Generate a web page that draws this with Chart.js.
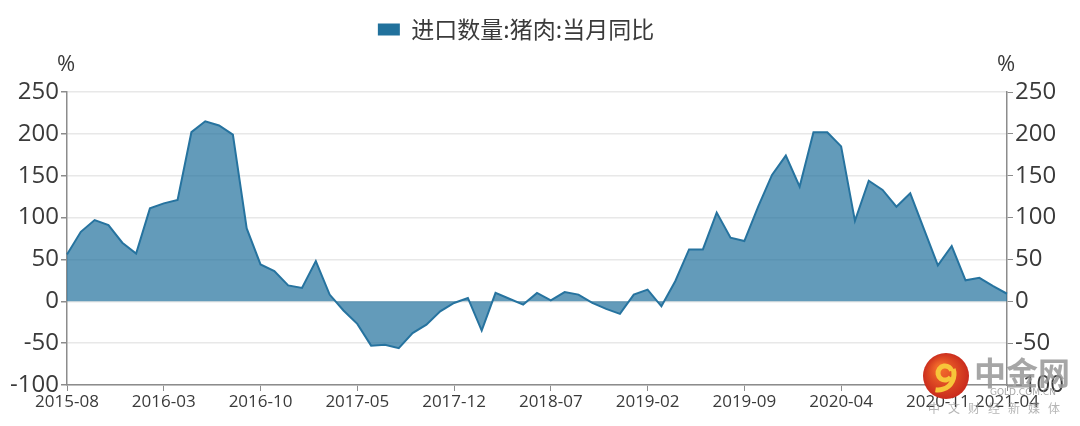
<!DOCTYPE html>
<html>
<head>
<meta charset="utf-8">
<script src="https://cdn.jsdelivr.net/npm/chart.js@4.4.0/dist/chart.umd.min.js"></script>
<style>
  html, body { margin: 0; padding: 0; background: #fff; }
  #wrap { width: 1080px; height: 426px; }
</style>
</head>
<body>
<div id="wrap"><canvas id="chart"></canvas></div>
<script>
// 进口数量:猪肉:当月同比, 2015-08 ~ 2021-04 (月度)
const months = [];
for (let y = 2015, m = 8; y < 2021 || (y === 2021 && m <= 4); m++) {
    if (m > 12) { m = 1; y++; }
    months.push(`${y}-${String(m).padStart(2, '0')}`);
}

const yoyValues = [
    56, 83, 97, 91, 70, 57, 111, 117, 121, 202,
    215, 210, 199, 87, 44, 36, 19, 16, 48, 8,
    -11, -27, -53, -52, -56, -38, -28, -12, -2, 4,
    -35, 10, 3, -4, 10, 1, 11, 8, -2, -9,
    -15, 8, 14, -6, 24, 62, 62, 106, 76, 72,
    113, 151, 174, 137, 202, 202, 185, 96, 144, 133,
    113, 129, 86, 43, 66, 25, 28, 18, 9
];

const tickMonths = ['2015-08', '2016-03', '2016-10', '2017-05', '2017-12', '2018-07',
                    '2019-02', '2019-09', '2020-04', '2020-11', '2021-04'];
const yTicks = [-100, -50, 0, 50, 100, 150, 200, 250];

const textColor = '#3a3a3a';
const axisColor = '#8c8c8c';

// 图例略偏左
const legendShift = {
    id: 'legendShift',
    afterLayout(chart) {
        if (chart.legend) {
            chart.legend.left -= 24;
            chart.legend.right -= 24;
        }
    }
};

// "%" 单位与水印
const extrasPlugin = {
    id: 'extras',
    afterDraw(chart) {
        const ctx = chart.ctx;
        ctx.save();
        ctx.fillStyle = textColor;
        ctx.font = '22px "Open Sans", sans-serif';
        ctx.textAlign = 'center';
        ctx.textBaseline = 'middle';
        ctx.fillText('%', 66, 65);
        ctx.fillText('%', 1006, 65);

        // 中金网 水印
        const cx = 946, cy = 376;
        const g = ctx.createRadialGradient(cx - 6, cy - 8, 4, cx, cy, 24);
        g.addColorStop(0, '#f0672a');
        g.addColorStop(1, '#c8281c');
        ctx.fillStyle = g;
        ctx.beginPath();
        ctx.arc(cx, cy, 23, 0, Math.PI * 2);
        ctx.fill();
        ctx.strokeStyle = '#f7c53a';
        ctx.lineWidth = 5;
        ctx.beginPath();
        ctx.arc(cx - 1, cy - 3, 7, 0.2 * Math.PI, 1.9 * Math.PI);
        ctx.stroke();
        ctx.beginPath();
        ctx.arc(cx - 8, cy - 2, 16, -0.1 * Math.PI, 0.55 * Math.PI);
        ctx.stroke();

        ctx.fillStyle = 'rgba(150,150,150,0.85)';
        ctx.font = 'bold 32px "Noto Sans CJK SC", sans-serif';
        ctx.textAlign = 'left';
        ctx.fillText('中金网', 974, 373);
        ctx.font = '9px "DejaVu Sans", sans-serif';
        ctx.fillText('GOLD.COM.CN', 990, 393);
        ctx.font = '12px "Noto Sans CJK SC", sans-serif';
        ctx.fillStyle = 'rgba(150,150,150,0.7)';
        const words = ['中', '文', '财', '经', '新', '媒', '体'];
        words.forEach((w, i) => ctx.fillText(w, 928 + i * 20, 408));
        ctx.restore();
    }
};

const ctx = document.getElementById('chart').getContext('2d');
new Chart(ctx, {
    type: 'line',
    data: {
        labels: months,
        datasets: [{
            label: '进口数量:猪肉:当月同比',
            data: yoyValues,
            borderColor: '#26739f',
            backgroundColor: 'rgba(33, 113, 156, 0.7)',
            borderWidth: 2,
            pointRadius: 0,
            fill: 'origin',
            tension: 0,
            yAxisID: 'y'
        }]
    },
    options: {
        responsive: true,
        maintainAspectRatio: false,
        animation: false,
        layout: { padding: { top: 8, left: 0, right: 0, bottom: 0 } },
        plugins: {
            legend: {
                position: 'top',
                labels: {
                    color: textColor,
                    font: { size: 23, family: '"Noto Sans CJK SC", sans-serif' },
                    boxWidth: 22,
                    boxHeight: 12,
                    padding: 10,
                    generateLabels: chart => [{
                        text: chart.data.datasets[0].label,
                        fillStyle: '#21719c',
                        strokeStyle: '#21719c',
                        lineWidth: 0,
                        datasetIndex: 0,
                        fontColor: textColor
                    }]
                }
            },
            tooltip: { enabled: false }
        },
        scales: {
            spacer: {
                type: 'category',
                position: 'top',
                ticks: { display: false },
                grid: { display: false },
                border: { display: false },
                afterFit: s => { s.height = 41; }
            },
            x: {
                type: 'category',
                offset: false,
                ticks: {
                    autoSkip: false,
                    maxRotation: 0,
                    color: textColor,
                    font: { size: 17, family: '"Open Sans", sans-serif' },
                    padding: 1
                },
                afterBuildTicks: s => {
                    s.ticks = s.ticks.filter(t => tickMonths.includes(months[t.value]));
                },
                grid: { display: true, drawOnChartArea: false, tickLength: 6, tickColor: axisColor },
                border: { color: axisColor, width: 1.5 },
                afterFit: s => { s.height = 41; }
            },
            y: {
                position: 'left',
                min: -100,
                max: 250,
                afterBuildTicks: s => { s.ticks = yTicks.map(v => ({ value: v })); },
                ticks: {
                    color: textColor,
                    font: { size: 24, family: '"Open Sans", sans-serif' },
                    padding: 2
                },
                grid: { color: '#e8e8e8', lineWidth: 1.5, tickLength: 6, tickColor: axisColor },
                border: { color: axisColor, width: 1.5 },
                afterFit: s => { s.width = 67; }
            },
            y1: {
                position: 'right',
                min: -100,
                max: 250,
                afterBuildTicks: s => { s.ticks = yTicks.map(v => ({ value: v })); },
                ticks: {
                    color: textColor,
                    font: { size: 24, family: '"Open Sans", sans-serif' },
                    padding: 2
                },
                grid: { drawOnChartArea: false, tickLength: 6, tickColor: axisColor },
                border: { color: axisColor, width: 1.5 },
                afterFit: s => { s.width = 73; }
            }
        }
    },
    plugins: [legendShift, extrasPlugin]
});
</script>
</body>
</html>
